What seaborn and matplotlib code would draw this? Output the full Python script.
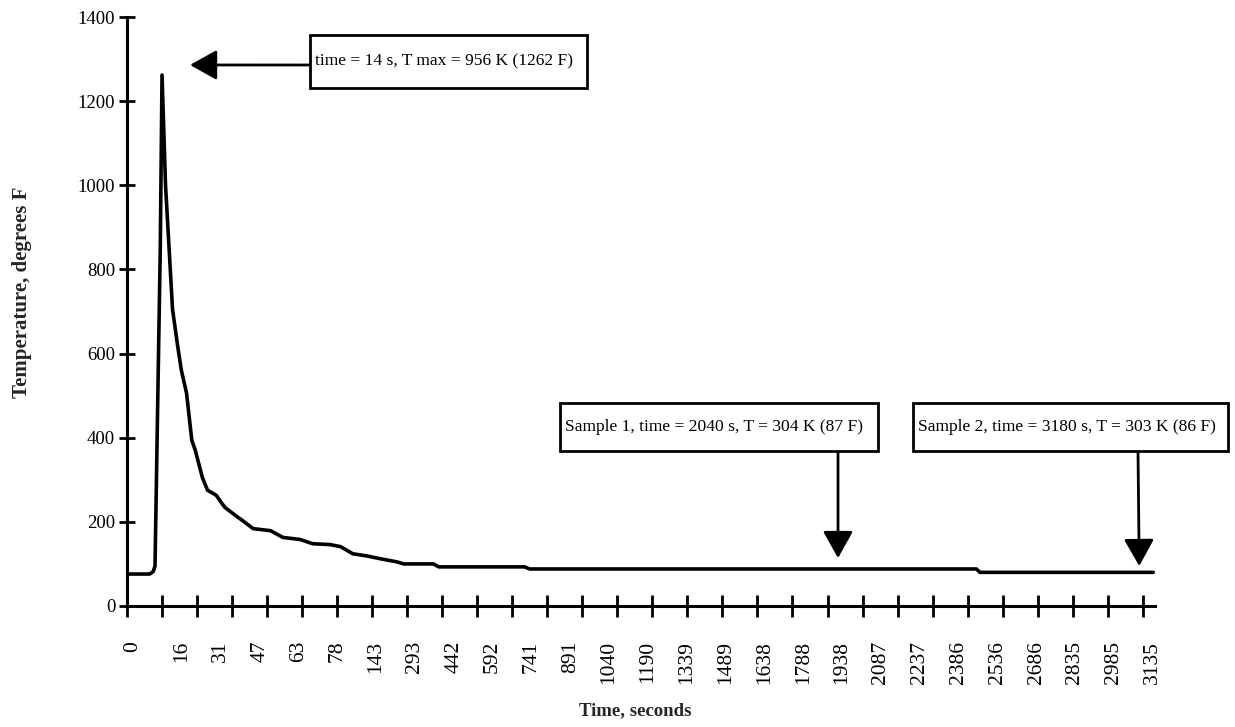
import matplotlib
matplotlib.use("Agg")
import matplotlib.pyplot as plt
import seaborn as sns
import pandas as pd
from matplotlib.patches import Rectangle

# ---------------- data ----------------
# x = sample (category) index along the time axis, 20 samples per tick interval
sample_idx = [0, 13, 15, 16, 18, 19, 20, 22, 26, 29,
              31, 34, 37, 39, 43, 46, 49, 51, 54, 56,
              62, 66, 72, 82, 89, 99, 106, 116, 122, 129,
              137, 145, 154, 158, 175, 178, 227, 230, 485, 487,
              586]
temp_F = [76, 76, 82, 95, 600, 850, 1262, 1000, 705, 616,
          561, 506, 394, 370, 306, 275, 268, 263, 245, 234,
          215, 203, 184, 179, 163, 158, 148, 146, 141, 124,
          119, 112, 105, 100, 100, 93, 93, 88, 88, 80,
          80]

time_labels = ['0', '16', '31', '47', '63', '78', '143', '293', '442', '592',
               '741', '891', '1040', '1190', '1339', '1489', '1638', '1788',
               '1938', '2087', '2237', '2386', '2536', '2686', '2835', '2985',
               '3135']
y_ticks = [0, 200, 400, 600, 800, 1000, 1200, 1400]

note_peak = "time = 14 s, T max = 956 K (1262 F)"
note_s1 = "Sample 1, time = 2040 s, T = 304 K (87 F)"
note_s2 = "Sample 2, time = 3180 s, T = 303 K (86 F)"
peak_point = (36, 1286)      # arrow tip (sample index, temperature)
s1_point = (406, 114)
s2_point = (578, 95)

df = pd.DataFrame({"sample": sample_idx, "temp": temp_F})

# ---------------- figure ----------------
sns.set_theme(style="white")
plt.rcParams['font.family'] = ['Liberation Serif', 'DejaVu Serif']

W, H = 1235, 727
fig = plt.figure(figsize=(W / 100, H / 100), dpi=100)
ax = fig.add_axes([127 / W, 121 / H, (1155 - 127) / W, (606 - 17) / H])

sns.lineplot(data=df, x="sample", y="temp", color="black", linewidth=2.6, ax=ax)

ax.set_xlim(0, 587)
ax.set_ylim(0, 1400)
for s in ["top", "right"]:
    ax.spines[s].set_visible(False)
for s in ["left", "bottom"]:
    ax.spines[s].set_linewidth(2.2)
    ax.spines[s].set_color("black")

# y axis
ax.set_yticks(y_ticks)
ax.set_yticklabels([str(v) for v in y_ticks], fontsize=13.5)
ax.tick_params(axis='y', left=True, direction='inout', length=11, width=2,
               pad=3, color='black', labelcolor='black')

# x axis: tick marks every 20 samples, labels on minor positions
ax.set_xticks(list(range(0, 581, 20)))
ax.set_xticklabels([])
ax.tick_params(axis='x', which='major', bottom=True, direction='inout',
               length=16, width=2, color='black')
label_pos = [3.4] + [31.4 + 22.17 * i for i in range(len(time_labels) - 1)]
ax.set_xticks(label_pos, minor=True)
ax.set_xticklabels(time_labels, minor=True, rotation=90, fontsize=15.5, va='top')
ax.tick_params(axis='x', which='minor', bottom=True, length=0, pad=25,
               labelcolor='black')

ax.set_xlabel("Time, seconds", fontweight='bold', fontsize=13.5)
ax.set_ylabel("Temperature, degrees F", fontweight='bold', fontsize=15)
ax.xaxis.set_label_coords((635 - 127) / 1028, (606 - 711) / 589)
ax.xaxis.label.set_va('center')
ax.yaxis.set_label_coords((22 - 127) / 1028, (606 - 292) / 589)
ax.yaxis.label.set_va('center')


def fx(px):
    return px / W


def fy(py):
    return 1 - py / H


def note_box(x0, y0, x1, y1, text):
    rect = Rectangle((fx(x0), fy(y1)), fx(x1) - fx(x0), fy(y0) - fy(y1),
                     transform=fig.transFigure, facecolor='white',
                     edgecolor='black', linewidth=2, zorder=5)
    fig.add_artist(rect)
    fig.text(fx(x0 + 5), fy((y0 + y1) / 2), text, ha='left', va='center',
             fontsize=12.6, color='black', zorder=6)


arrow_kw = dict(arrowstyle='-|>,head_length=0.75,head_width=0.42', color='black',
                lw=2, mutation_scale=22, shrinkA=0, shrinkB=0)

note_box(310, 35, 587, 88, note_peak)
ax.annotate('', xy=peak_point, xycoords='data', xytext=(fx(310), fy(65)),
            textcoords='figure fraction', arrowprops=arrow_kw)

note_box(560, 403, 878, 451, note_s1)
ax.annotate('', xy=s1_point, xycoords='data', xytext=(fx(838), fy(451)),
            textcoords='figure fraction', arrowprops=arrow_kw)

note_box(913, 403, 1228, 451, note_s2)
ax.annotate('', xy=s2_point, xycoords='data', xytext=(fx(1138), fy(451)),
            textcoords='figure fraction', arrowprops=arrow_kw)

fig.savefig("out.png", dpi=100)
